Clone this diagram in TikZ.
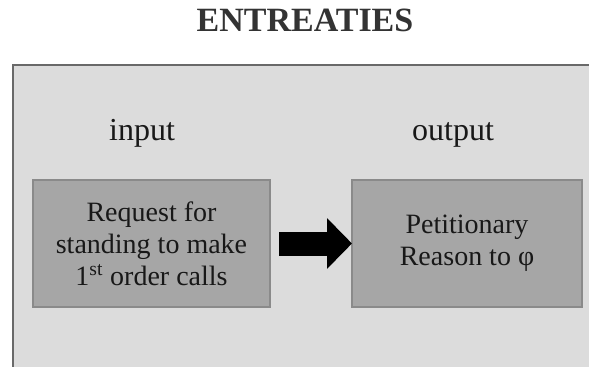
\documentclass[tikz,border=0pt]{standalone}
\usepackage{fontspec}
\setmainfont{Liberation Serif}
\usetikzlibrary{arrows.meta,positioning}
\definecolor{panel}{RGB}{220,220,220}
\definecolor{frame}{RGB}{105,105,105}
\definecolor{boxfill}{RGB}{166,166,166}
\definecolor{boxline}{RGB}{138,138,138}
\definecolor{ink}{RGB}{24,24,24}
\definecolor{titleink}{RGB}{51,51,51}

\begin{document}
\begin{tikzpicture}[x=0.75pt, y=-0.75pt,
    stage/.style={draw=boxline, line width=1.6pt, fill=boxfill, text=ink,
        minimum height=95.25pt, align=center, inner sep=0pt, outer sep=0pt,
        font=\fontsize{21}{24}\selectfont},
    caption/.style={anchor=base, text=ink, font=\fontsize{24}{28}\selectfont},
    bigarrow/.style={line width=18pt, -{Triangle[length=18.75pt, width=37pt]},
        shorten <=6.75pt}]

    % Frame
    \clip (0,0) rectangle (589,367);
    \fill[panel] (13,65) rectangle (610,390);
    \draw[frame, line width=1.2pt] (13,390) -- (13,65) -- (610,65);

    % Title
    \node[anchor=base, text=titleink, font=\fontsize{25.5}{30}\selectfont\bfseries]
        (title) at (305,32) {ENTREATIES};

    % Boxes
    \node[stage, minimum width=177.75pt] (request) at (151.5,243.5)
        {Request for\\standing to make\\1\textsuperscript{st} order calls};
    \node[stage, minimum width=172.5pt] (reason) at (467,243.5)
        {Petitionary\\Reason to φ};

    % Labels
    \node[caption] (input) at (142,141) {input};
    \node[caption] (output) at (453,141) {output};

    % Arrow
    \draw[bigarrow] (request.east) -- (reason.west);

\end{tikzpicture}
\end{document}
